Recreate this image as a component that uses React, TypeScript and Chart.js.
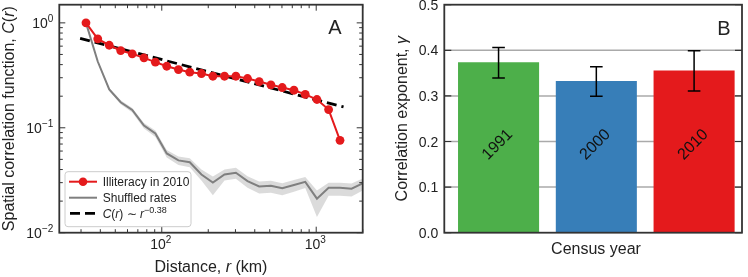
import React, { useEffect, useRef } from "react";
import { Chart, registerables } from "chart.js";
Chart.register(...registerables);

const FONT = '"Liberation Sans", Arial, Helvetica, sans-serif';
const TXT = "#222";
const FRAME = "#333";
const RED = "#e41a1c";

// Panel A data
const distanceKm = [32.3, 38.5, 45.7, 54.2, 64.4, 76.7, 90.9, 107.7, 128.2, 151.8, 180.6, 214.2, 254.8, 301.9, 359.1, 427.3, 508.8, 602.6, 717.5, 849.4, 1011, 1203, 1426, 1694, 2000];
const illiteracy2010 = [1.0, 0.704, 0.612, 0.545, 0.507, 0.464, 0.422, 0.386, 0.359, 0.339, 0.329, 0.31, 0.31, 0.31, 0.295, 0.276, 0.257, 0.242, 0.228, 0.208, 0.186, 0.149, 0.076];
const shuffledRates = [1.0, 0.428, 0.232, 0.175, 0.148, 0.105, 0.0882, 0.0569, 0.0489, 0.047, 0.0359, 0.0301, 0.0359, 0.0373, 0.031, 0.0276, 0.028, 0.0265, 0.0285, 0.0305, 0.0211, 0.0268, 0.0268, 0.0263, 0.0295];
const shuffledLow = [1.0, 0.419, 0.224, 0.168, 0.14, 0.0985, 0.0817, 0.0521, 0.0442, 0.0421, 0.0315, 0.0227, 0.0315, 0.0327, 0.0268, 0.0237, 0.024, 0.0228, 0.0245, 0.0267, 0.0141, 0.0225, 0.0225, 0.0221, 0.0253];
const shuffledHigh = [1.0, 0.437, 0.239, 0.183, 0.154, 0.111, 0.0942, 0.0615, 0.0533, 0.0513, 0.0401, 0.0344, 0.0401, 0.0416, 0.0346, 0.0308, 0.0313, 0.0296, 0.0318, 0.034, 0.0253, 0.0299, 0.0299, 0.0294, 0.0329];
const fitDistance = [29.6, 1503];
const fitCorrelation = [0.713, 0.158];
const yMajorTicksA = [0.01, 0.1, 1];
const yTickExpA = ["\u22122", "\u22121", "0"];
const xMajorTicksA = [100, 1000];
const xTickExpA = ["2", "3"];

// Panel B data
const censusYears = ["1991", "2000", "2010"];
const gammaValues = [0.373, 0.332, 0.355];
const gammaLow = [0.339, 0.299, 0.311];
const gammaHigh = [0.406, 0.364, 0.399];
const gammaTicks = [0, 0.1, 0.2, 0.3, 0.4, 0.5];
const gammaTickLabels = ["0.0", "0.1", "0.2", "0.3", "0.4", "0.5"];
const barColors = ["#4daf4a", "#377eb8", "#e41a1c"];

type Seg = { t: string; f: string; dy?: number };

function richWidth(ctx: CanvasRenderingContext2D, segs: Seg[]) {
  let w = 0;
  for (const s of segs) {
    ctx.font = s.f;
    w += ctx.measureText(s.t).width;
  }
  return w;
}
function drawRich(ctx: CanvasRenderingContext2D, segs: Seg[], x: number, y: number, align: "left" | "center" | "right") {
  const w = richWidth(ctx, segs);
  let cx = align === "left" ? x : align === "center" ? x - w / 2 : x - w;
  ctx.textAlign = "left";
  ctx.textBaseline = "alphabetic";
  for (const s of segs) {
    ctx.font = s.f;
    ctx.fillText(s.t, cx, y + (s.dy || 0));
    cx += ctx.measureText(s.t).width;
  }
}

const pts = (xs: number[], ys: number[]) => ys.map((y, i) => ({ x: xs[i], y }));

const f = (size: number, style = "") => `${style} ${size}px ${FONT}`.trim();

const leftDecor = {
  id: "leftDecor",
  afterDraw(chart: any) {
    const ctx: CanvasRenderingContext2D = chart.ctx;
    const { left, right, top, bottom } = chart.chartArea;
    const xs = chart.scales.x;
    const ys = chart.scales.y;
    ctx.save();
    ctx.strokeStyle = FRAME;
    ctx.lineWidth = 1;
    const yMinor: number[] = [];
    for (const d of [0.01, 0.1, 1]) for (let k = 2; k <= 9; k++) if (d * k <= ys.max) yMinor.push(d * k);
    const xMinor: number[] = [];
    for (const d of [10, 100, 1000]) for (let k = 2; k <= 9; k++) if (d * k >= xs.min && d * k <= xs.max) xMinor.push(d * k);
    ctx.beginPath();
    for (const v of yMajorTicksA) {
      const p = ys.getPixelForValue(v);
      ctx.moveTo(left, p); ctx.lineTo(left + 6, p);
      ctx.moveTo(right, p); ctx.lineTo(right - 6, p);
    }
    for (const v of yMinor) {
      const p = ys.getPixelForValue(v);
      ctx.moveTo(left, p); ctx.lineTo(left + 3.5, p);
      ctx.moveTo(right, p); ctx.lineTo(right - 3.5, p);
    }
    for (const v of xMajorTicksA) {
      const p = xs.getPixelForValue(v);
      ctx.moveTo(p, bottom); ctx.lineTo(p, bottom - 6);
      ctx.moveTo(p, top); ctx.lineTo(p, top + 6);
    }
    for (const v of xMinor) {
      const p = xs.getPixelForValue(v);
      ctx.moveTo(p, bottom); ctx.lineTo(p, bottom - 3.5);
      ctx.moveTo(p, top); ctx.lineTo(p, top + 3.5);
    }
    ctx.stroke();
    ctx.lineWidth = 1.8;
    ctx.strokeRect(left, top, right - left, bottom - top);

    ctx.fillStyle = TXT;
    yMajorTicksA.forEach((v, i) => {
      const p = ys.getPixelForValue(v);
      drawRich(ctx, [{ t: "10", f: f(14) }, { t: yTickExpA[i], f: f(10), dy: -6 }], left - 6, p + 5, "right");
    });
    xMajorTicksA.forEach((v, i) => {
      const p = xs.getPixelForValue(v);
      drawRich(ctx, [{ t: "10", f: f(14) }, { t: xTickExpA[i], f: f(10), dy: -6 }], p - 1, bottom + 16, "center");
    });

    drawRich(ctx, [{ t: "Distance, ", f: f(16) }, { t: "r", f: f(16, "italic") }, { t: " (km)", f: f(16) }], (left + right) / 2, 272, "center");
    ctx.save();
    ctx.translate(13.5, (top + bottom) / 2);
    ctx.rotate(-Math.PI / 2);
    drawRich(ctx, [{ t: "Spatial correlation function, ", f: f(16) }, { t: "C", f: f(16, "italic") }, { t: "(", f: f(16) }, { t: "r", f: f(16, "italic") }, { t: ")", f: f(16) }], 0, 0, "center");
    ctx.restore();

    ctx.font = f(20);
    ctx.textAlign = "center";
    ctx.textBaseline = "alphabetic";
    ctx.fillText("A", 335, 34);

    // legend
    const lx = 65, ly = 171.7, lw = 126, lh = 55;
    ctx.beginPath();
    (ctx as any).roundRect ? (ctx as any).roundRect(lx, ly, lw, lh, 3) : ctx.rect(lx, ly, lw, lh);
    ctx.fillStyle = "rgba(255,255,255,0.85)";
    ctx.fill();
    ctx.strokeStyle = "#cccccc";
    ctx.lineWidth = 1;
    ctx.stroke();
    const rows = [181.7, 197.7, 213.3];
    ctx.strokeStyle = RED; ctx.lineWidth = 2; ctx.setLineDash([]);
    ctx.beginPath(); ctx.moveTo(69, rows[0]); ctx.lineTo(97, rows[0]); ctx.stroke();
    ctx.fillStyle = RED; ctx.beginPath(); ctx.arc(83, rows[0], 4.3, 0, Math.PI * 2); ctx.fill();
    ctx.strokeStyle = "#7f7f7f"; ctx.lineWidth = 2;
    ctx.beginPath(); ctx.moveTo(69, rows[1]); ctx.lineTo(97, rows[1]); ctx.stroke();
    ctx.strokeStyle = "#000"; ctx.lineWidth = 2.8; ctx.setLineDash([10, 5]);
    ctx.beginPath(); ctx.moveTo(70, rows[2]); ctx.lineTo(97, rows[2]); ctx.stroke();
    ctx.setLineDash([]);
    ctx.fillStyle = TXT;
    drawRich(ctx, [{ t: "Illiteracy in 2010", f: f(12) }], 102.7, rows[0] + 4.3, "left");
    drawRich(ctx, [{ t: "Shuffled rates", f: f(12) }], 102.7, rows[1] + 4.3, "left");
    drawRich(ctx, [
      { t: "C", f: f(12, "italic") }, { t: "(", f: f(12) }, { t: "r", f: f(12, "italic") }, { t: ") \u223c ", f: f(12) },
      { t: "r", f: f(12, "italic") }, { t: "\u22120.38", f: f(9), dy: -5 },
    ], 102.7, rows[2] + 4.3, "left");
    ctx.restore();
  },
};

const rightDecor = {
  id: "rightDecor",
  beforeDatasetsDraw(chart: any) {
    const ctx: CanvasRenderingContext2D = chart.ctx;
    const { left, right } = chart.chartArea;
    const ys = chart.scales.y;
    ctx.save();
    ctx.strokeStyle = "#aaaaaa";
    ctx.lineWidth = 1.5;
    ctx.beginPath();
    for (const v of gammaTicks.slice(1, -1)) {
      const p = ys.getPixelForValue(v);
      ctx.moveTo(left, p); ctx.lineTo(right, p);
    }
    ctx.stroke();
    ctx.restore();
  },
  afterDatasetsDraw(chart: any) {
    const ctx: CanvasRenderingContext2D = chart.ctx;
    const xs = chart.scales.x;
    const ys = chart.scales.y;
    ctx.save();
    ctx.strokeStyle = "#000";
    ctx.lineWidth = 1.5;
    censusYears.forEach((_, i) => {
      const cx = xs.getPixelForValue(i);
      const y1 = ys.getPixelForValue(gammaLow[i]);
      const y2 = ys.getPixelForValue(gammaHigh[i]);
      ctx.beginPath();
      ctx.moveTo(cx, y1); ctx.lineTo(cx, y2);
      ctx.moveTo(cx - 6.3, y1); ctx.lineTo(cx + 6.3, y1);
      ctx.moveTo(cx - 6.3, y2); ctx.lineTo(cx + 6.3, y2);
      ctx.stroke();
    });
    ctx.fillStyle = "#111";
    ctx.font = f(16);
    ctx.textAlign = "center";
    ctx.textBaseline = "middle";
    censusYears.forEach((yr, i) => {
      const cx = xs.getPixelForValue(i) - 1;
      const cy = ys.getPixelForValue(0.193);
      ctx.save();
      ctx.translate(cx, cy);
      ctx.rotate(-Math.PI / 4);
      ctx.fillText(yr, 0, 0);
      ctx.restore();
    });
    ctx.restore();
  },
  afterDraw(chart: any) {
    const ctx: CanvasRenderingContext2D = chart.ctx;
    const { left, right, top, bottom } = chart.chartArea;
    const ys = chart.scales.y;
    ctx.save();
    ctx.strokeStyle = FRAME;
    ctx.lineWidth = 1.2;
    ctx.beginPath();
    for (const v of gammaTicks) {
      const p = ys.getPixelForValue(v);
      ctx.moveTo(left, p); ctx.lineTo(left + 7, p);
      ctx.moveTo(right, p); ctx.lineTo(right - 7, p);
    }
    ctx.stroke();
    ctx.lineWidth = 1.8;
    ctx.strokeRect(left, top, right - left, bottom - top);
    ctx.fillStyle = TXT;
    gammaTicks.forEach((v, i) => {
      const p = ys.getPixelForValue(v);
      drawRich(ctx, [{ t: gammaTickLabels[i], f: f(14) }], left - 6, p + 5, "right");
    });
    drawRich(ctx, [{ t: "Census year", f: f(16) }], 596 - 380, 254, "center");
    ctx.save();
    ctx.translate(406.5 - 380, (top + bottom) / 2);
    ctx.rotate(-Math.PI / 2);
    drawRich(ctx, [{ t: "Correlation exponent, ", f: f(16) }, { t: "\u03b3", f: f(16, "italic") }], 0, 0, "center");
    ctx.restore();
    ctx.font = f(20);
    ctx.textAlign = "center";
    ctx.textBaseline = "alphabetic";
    ctx.fillText("B", 724 - 380, 35);
    ctx.restore();
  },
};

export default function App() {
  const leftRef = useRef<HTMLCanvasElement>(null);
  const rightRef = useRef<HTMLCanvasElement>(null);

  useEffect(() => {
    const left = new Chart(leftRef.current!, {
      type: "line",
      data: {
        datasets: [
          { label: "Illiteracy in 2010", data: pts(distanceKm, illiteracy2010), borderColor: RED, backgroundColor: RED, borderWidth: 2, pointRadius: 4.4, pointBorderWidth: 0, pointBackgroundColor: RED, fill: false, order: 0 },
          { label: "fit", data: pts(fitDistance, fitCorrelation), borderColor: "#000", borderWidth: 2.8, borderDash: [10, 5], pointRadius: 0, fill: false, order: 1 },
          { label: "Shuffled rates", data: pts(distanceKm, shuffledRates), borderColor: "#7f7f7f", borderWidth: 2, pointRadius: 0, fill: false, order: 2 },
          { label: "high", data: pts(distanceKm, shuffledHigh), borderColor: "rgba(0,0,0,0)", borderWidth: 0, pointRadius: 0, fill: "+1", backgroundColor: "rgba(190,190,190,0.55)", order: 3 },
          { label: "low", data: pts(distanceKm, shuffledLow), borderColor: "rgba(0,0,0,0)", borderWidth: 0, pointRadius: 0, fill: false, order: 4 },
        ],
      } as any,
      options: {
        responsive: false,
        animation: false,
        events: [],
        layout: { padding: { left: 0, top: 4.7, right: 17.3, bottom: 0 } },
        plugins: { legend: { display: false }, tooltip: { enabled: false } },
        scales: {
          x: { type: "logarithmic", min: 21.7, max: 2000, bounds: "data", offset: false, ticks: { display: false }, grid: { display: false }, border: { display: false }, afterFit: (s: any) => { s.height = 44.3; } },
          y: { type: "logarithmic", min: 0.01, max: 1.49, bounds: "data", ticks: { display: false }, grid: { display: false }, border: { display: false }, afterFit: (s: any) => { s.width = 59.3; } },
        },
      } as any,
      plugins: [leftDecor],
    });

    const right = new Chart(rightRef.current!, {
      type: "bar",
      data: {
        labels: censusYears,
        datasets: [
          { data: censusYears.map((_, i) => ({ x: i, y: gammaValues[i] })), backgroundColor: barColors, borderWidth: 0, barThickness: 80.4 },
        ],
      } as any,
      options: {
        responsive: false,
        animation: false,
        events: [],
        layout: { padding: { left: 0, top: 4.7, right: 6, bottom: 0 } },
        plugins: { legend: { display: false }, tooltip: { enabled: false } },
        scales: {
          x: { type: "linear", min: -0.555, max: 2.49, bounds: "data", offset: false, ticks: { display: false }, grid: { display: false, offset: false }, border: { display: false }, afterFit: (s: any) => { s.height = 44.3; } },
          y: { type: "linear", min: 0, max: 0.5, bounds: "data", ticks: { display: false }, grid: { display: false }, border: { display: false }, afterFit: (s: any) => { s.width = 64.3; } },
        },
      } as any,
      plugins: [rightDecor],
    });

    return () => {
      left.destroy();
      right.destroy();
    };
  }, []);

  return (
    <div style={{ position: "absolute", left: 0, top: 0, width: 748, height: 277, background: "#fff" }}>
      <canvas ref={leftRef} width={380} height={277} style={{ position: "absolute", left: 0, top: 0, width: 380, height: 277 }} />
      <canvas ref={rightRef} width={368} height={277} style={{ position: "absolute", left: 380, top: 0, width: 368, height: 277 }} />
    </div>
  );
}
